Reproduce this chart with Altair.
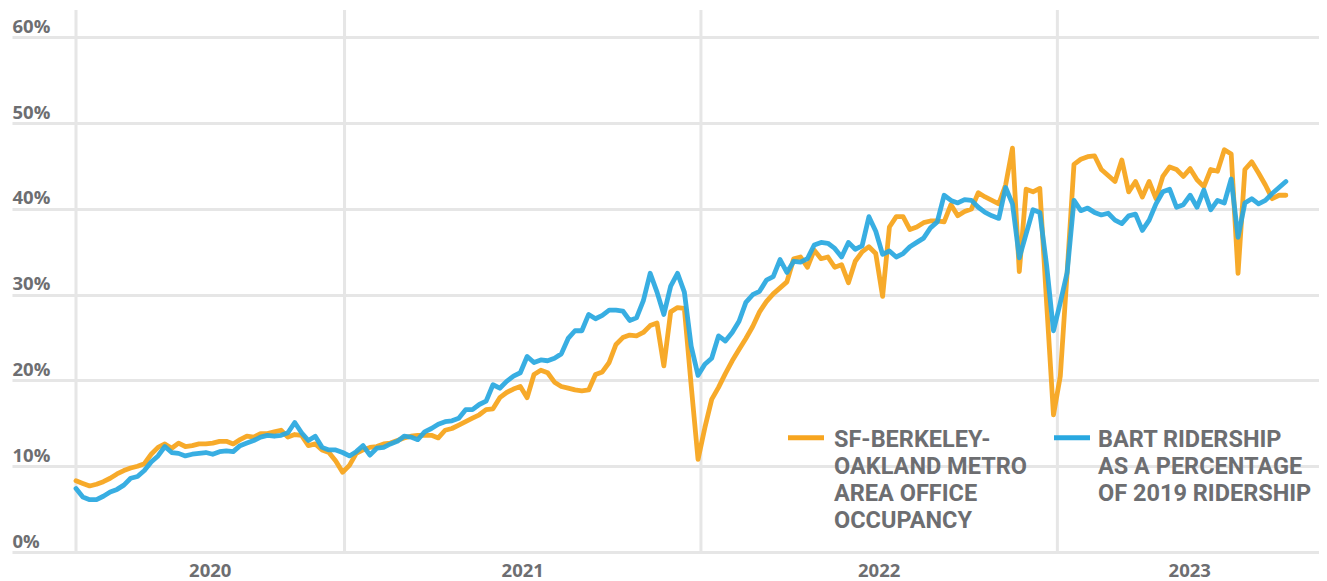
import altair as alt
import pandas as pd

# ---------------- data (weekly points) ----------------
SERIES = [
    "SF-Berkeley-Oakland metro area office occupancy",
    "BART ridership as a percentage of 2019 ridership",
]
FIRST_WEEK = "2020-04-01"

OFFICE = [
    8.3, 8.0, 7.7, 7.9, 8.2, 8.6, 9.1, 9.5, 9.8, 10.0,
    10.3, 11.4, 12.2, 12.6, 12.1, 12.7, 12.3, 12.4, 12.6, 12.6,
    12.7, 12.9, 12.9, 12.6, 13.1, 13.5, 13.4, 13.8, 13.8, 14.0,
    14.2, 13.4, 13.7, 13.6, 12.4, 12.6, 11.9, 11.6, 10.6, 9.3,
    10.1, 11.5, 11.9, 12.2, 12.3, 12.6, 12.7, 13.0, 13.3, 13.5,
    13.6, 13.6, 13.6, 13.3, 14.2, 14.4, 14.8, 15.2, 15.6, 16.0,
    16.6, 16.7, 18.0, 18.6, 19.0, 19.3, 18.0, 20.7, 21.2, 20.9,
    19.8, 19.3, 19.1, 18.9, 18.8, 18.9, 20.7, 21.0, 22.1, 24.2,
    25.0, 25.3, 25.2, 25.6, 26.4, 26.7, 21.7, 28.0, 28.5, 28.4,
    19.4, 10.8, 14.5, 17.8, 19.2, 20.8, 22.3, 23.6, 24.9, 26.3,
    28.0, 29.2, 30.1, 30.8, 31.5, 34.2, 34.4, 33.2, 35.2, 34.2,
    34.4, 33.2, 33.5, 31.4, 33.9, 35.0, 35.6, 34.8, 29.8, 37.9,
    39.1, 39.1, 37.6, 37.9, 38.4, 38.6, 38.6, 38.5, 40.5, 39.2,
    39.7, 40.0, 41.9, 41.4, 41.0, 40.6, 42.8, 47.1, 32.7, 42.3,
    42.0, 42.4, 29.0, 16.0, 20.5, 32.6, 45.2, 45.8, 46.1, 46.2,
    44.6, 43.9, 43.2, 45.7, 42.0, 43.2, 41.4, 43.2, 41.2, 43.8,
    44.9, 44.6, 43.8, 44.7, 43.4, 42.6, 44.6, 44.4, 46.9, 46.4,
    32.5, 44.6, 45.5, 44.2, 42.8, 41.2, 41.6, 41.6,
]

BART = [
    7.4, 6.4, 6.1, 6.1, 6.5, 7.0, 7.3, 7.8, 8.6, 8.8,
    9.5, 10.5, 11.2, 12.3, 11.6, 11.5, 11.2, 11.4, 11.5, 11.6,
    11.4, 11.7, 11.8, 11.7, 12.4, 12.7, 13.0, 13.4, 13.6, 13.5,
    13.6, 13.9, 15.1, 13.9, 13.0, 13.5, 12.2, 11.9, 11.9, 11.6,
    11.2, 11.7, 12.4, 11.3, 12.1, 12.2, 12.6, 12.9, 13.5, 13.4,
    13.1, 14.0, 14.4, 14.9, 15.2, 15.3, 15.6, 16.6, 16.6, 17.2,
    17.6, 19.5, 19.1, 19.9, 20.5, 20.9, 22.8, 22.1, 22.4, 22.3,
    22.6, 23.1, 24.9, 25.8, 25.8, 27.7, 27.2, 27.6, 28.2, 28.2,
    28.1, 27.0, 27.3, 29.3, 32.5, 30.3, 27.7, 31.0, 32.5, 30.3,
    24.0, 20.6, 21.9, 22.6, 25.2, 24.6, 25.6, 26.9, 29.1, 30.0,
    30.4, 31.7, 32.1, 34.1, 32.6, 33.9, 33.8, 34.2, 35.8, 36.1,
    36.0, 35.4, 34.4, 36.1, 35.3, 35.7, 39.1, 37.4, 34.7, 35.1,
    34.4, 34.8, 35.6, 36.1, 36.6, 37.8, 38.5, 41.6, 41.0, 40.7,
    41.1, 41.0, 40.2, 39.6, 39.2, 38.9, 42.5, 40.6, 34.3, 37.1,
    39.9, 39.6, 33.4, 25.8, 29.1, 32.6, 41.0, 39.8, 40.1, 39.6,
    39.3, 39.5, 38.7, 38.3, 39.2, 39.4, 37.5, 38.7, 40.6, 42.0,
    42.3, 40.2, 40.5, 41.6, 40.2, 42.2, 39.9, 41.0, 40.7, 43.5,
    36.7, 40.7, 41.2, 40.6, 41.0, 41.8, 42.5, 43.2,
]

YEAR_LINES = ["2020-04-01", "2021-01-01", "2022-01-01", "2023-01-01"]
YEAR_LABEL_AT = [(2020, 8, 16), (2021, 7, 2), (2022, 7, 2), (2023, 5, 16)]
Y_TICKS = [0, 10, 20, 30, 40, 50, 60]
LEGEND_OFFICE = ["SF-BERKELEY-", "OAKLAND METRO", "AREA OFFICE", "OCCUPANCY"]
LEGEND_BART = ["BART RIDERSHIP", "AS A PERCENTAGE", "OF 2019 RIDERSHIP"]

# ---------------- styling / layout ----------------
ORANGE = "#F7A51F"
BLUE = "#29A8E0"
GRID = "#E6E6E6"
TEXT = "#6D6E71"
AXIS_FONT = "Open Sans"
LEGEND_FONT = "Roboto"

PLOT_W, PLOT_H = 1307, 542
LEAD_PX = 64          # blank space left of the first week
PX_PER_DAY = 0.9765

dates = pd.date_range(FIRST_WEEK, periods=len(OFFICE), freq="7D").strftime("%Y-%m-%d")
office_df = pd.DataFrame({"date": dates, "value": OFFICE, "series": SERIES[0]})
bart_df = pd.DataFrame({"date": dates, "value": BART, "series": SERIES[1]})
years_df = pd.DataFrame({"date": YEAR_LINES})

t0 = pd.Timestamp(FIRST_WEEK) - pd.Timedelta(days=LEAD_PX / PX_PER_DAY)
t1 = t0 + pd.Timedelta(days=PLOT_W / PX_PER_DAY)
dom = [int(t0.value // 10**6), int(t1.value // 10**6)]

x_scale = alt.Scale(type="utc", domain=dom)
x_axis = alt.Axis(
    values=[alt.DateTime(year=y, month=m, date=d, utc=True) for (y, m, d) in YEAR_LABEL_AT],
    labelExpr="utcFormat(datum.value, '%Y')",
    grid=False, domain=False, ticks=False, tickSize=0,
    labelPadding=24, labelBaseline="alphabetic", labelFlush=False, labelOverlap=False,
    labelFont=AXIS_FONT, labelFontWeight="bold", labelFontSize=18.5, labelColor=TEXT,
    title=None,
)
y_scale = alt.Scale(domain=[0, 63.2], nice=False, zero=True)
y_axis = alt.Axis(
    values=Y_TICKS, labelExpr="datum.value + '%'",
    grid=True, gridColor=GRID, gridWidth=3,
    domain=False, ticks=False, tickSize=0,
    labelAlign="left", labelBaseline="alphabetic", labelPadding=0, labelOffset=-5,
    labelFlush=False, labelOverlap=False,
    labelFont=AXIS_FONT, labelFontWeight="bold", labelFontSize=18.5, labelColor=TEXT,
    title=None,
)

X = alt.X("date:T", scale=x_scale, axis=x_axis, title=None)
Y = alt.Y("value:Q", scale=y_scale, axis=y_axis, title=None)

year_rules = alt.Chart(years_df).mark_rule(color=GRID, strokeWidth=3).encode(x=X)

office_line = alt.Chart(office_df).mark_line(
    color=ORANGE, strokeWidth=4.8, strokeJoin="round", strokeCap="round", opacity=0.95
).encode(x=X, y=Y, tooltip=["series:N", "date:T", "value:Q"])

bart_line = alt.Chart(bart_df).mark_line(
    color=BLUE, strokeWidth=4.8, strokeJoin="round", strokeCap="round", opacity=0.93
).encode(x=X, y=Y, tooltip=["series:N", "date:T", "value:Q"])

one = pd.DataFrame({"k": [0]})
leg_office_swatch = alt.Chart(one).mark_rule(color=ORANGE, strokeWidth=5).encode(
    x=alt.value(776), x2=alt.value(812), y=alt.value(427.8))
leg_bart_swatch = alt.Chart(one).mark_rule(color=BLUE, strokeWidth=5).encode(
    x=alt.value(1042), x2=alt.value(1078), y=alt.value(427.8))
leg_office_text = alt.Chart(one).mark_text(
    align="left", baseline="alphabetic", font=LEGEND_FONT, fontWeight="bold",
    fontSize=23.5, lineHeight=27, color=TEXT,
).encode(x=alt.value(822), y=alt.value(437), text=alt.value(LEGEND_OFFICE))
leg_bart_text = alt.Chart(one).mark_text(
    align="left", baseline="alphabetic", font=LEGEND_FONT, fontWeight="bold",
    fontSize=23.5, lineHeight=27, color=TEXT,
).encode(x=alt.value(1086), y=alt.value(437), text=alt.value(LEGEND_BART))

chart = alt.layer(
    year_rules, office_line, bart_line,
    leg_office_swatch, leg_bart_swatch, leg_office_text, leg_bart_text,
).properties(
    width=PLOT_W, height=PLOT_H,
    padding={"left": 4, "top": 2, "right": 0, "bottom": 29},
    autosize=alt.AutoSizeParams(type="none"),
    background="white",
).configure_view(stroke=None)

chart.save("out.html", embed_options={"renderer": "svg", "actions": False})
